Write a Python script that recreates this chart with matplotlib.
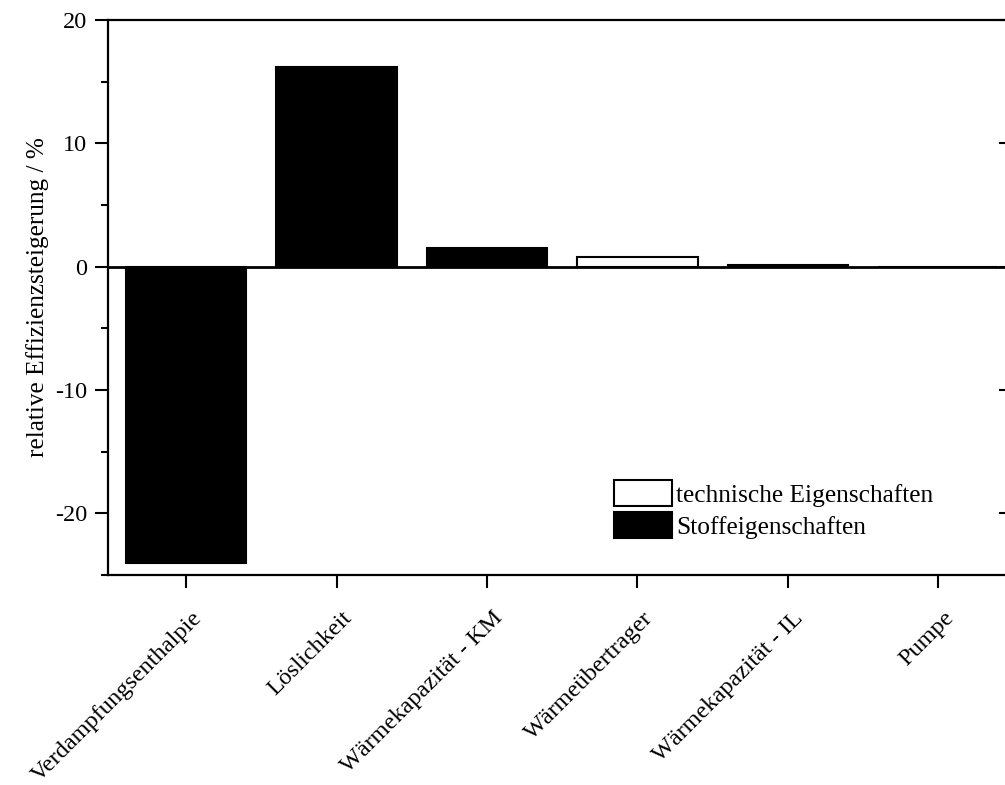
import numpy as np
import matplotlib
matplotlib.use("Agg")
import matplotlib.pyplot as plt
import matplotlib.transforms as mtransforms
from matplotlib.lines import TICKLEFT
from matplotlib.patches import Patch
from matplotlib.ticker import MultipleLocator, FuncFormatter

plt.rcParams['font.family'] = ['Liberation Serif', 'DejaVu Serif']

# Einflussgrößen und relative Effizienzsteigerung in %
kategorien = ["Verdampfungsenthalpie", "Löslichkeit", "Wärmekapazität - KM",
              "Wärmeübertrager", "Wärmekapazität - IL", "Pumpe"]
werte = [-24.0, 16.2, 1.5, 0.8, 0.15, 0.0]
# True = technische Eigenschaft (weiß), False = Stoffeigenschaft (schwarz)
technisch = [False, False, False, True, False, True]

farben = ["white" if t else "black" for t in technisch]
x = np.arange(len(kategorien))

fig = plt.figure(figsize=(10.05, 7.85), dpi=100)
ax = fig.add_axes([108 / 1005, 1 - 575 / 785, (1006 - 108) / 1005, (575 - 20) / 785])

ax.bar(x, werte, width=0.8, color=farben, edgecolor="black", linewidth=1.5, zorder=2)
ax.axhline(0, color="black", linewidth=2, zorder=3)

ax.set_xlim(-0.52, 5.45)
ax.set_ylim(-25, 20)
ax.yaxis.set_major_locator(MultipleLocator(10))
ax.yaxis.set_minor_locator(MultipleLocator(5))
ax.yaxis.set_major_formatter(FuncFormatter(lambda v, p: f"{v:.0f}"))

for s in ax.spines.values():
    s.set_linewidth(1.6)

ax.tick_params(axis="y", which="major", direction="out", length=9.5, width=1.5,
               labelsize=17.5, pad=5.5, right=True)
ax.tick_params(axis="y", which="minor", direction="out", length=5, width=1.5, right=False)
ax.tick_params(axis="x", direction="out", length=9.5, width=1.5, labelsize=17.5, pad=14)

# rechte Achse: Striche nach innen
for t in ax.yaxis.get_major_ticks():
    t.tick2line.set_marker(TICKLEFT)
    t.tick2line.set_markersize(5)

ax.set_xticks(x)
ax.set_xticklabels(kategorien, rotation=45, ha="right", rotation_mode="anchor")
shift = mtransforms.ScaledTranslation(5 / 100, 0, fig.dpi_scale_trans)
for lbl in ax.get_xticklabels():
    lbl.set_transform(lbl.get_transform() + shift)

ax.set_ylabel("relative Effizienzsteigerung / %", fontsize=18.2, labelpad=4)

handles = [Patch(facecolor="white", edgecolor="black", linewidth=1.5),
           Patch(facecolor="black", edgecolor="black", linewidth=1.5)]
ax.legend(handles, ["technische Eigenschaften", "Stoffeigenschaften"],
          loc="upper left", bbox_to_anchor=((614 - 108) / 898, 1 - (480 - 20) / 555),
          frameon=False, fontsize=18.3, handlelength=2.3, handleheight=1.2,
          handletextpad=0.15, labelspacing=0.22, borderaxespad=0, borderpad=0)

fig.savefig("out.png", dpi=100)
